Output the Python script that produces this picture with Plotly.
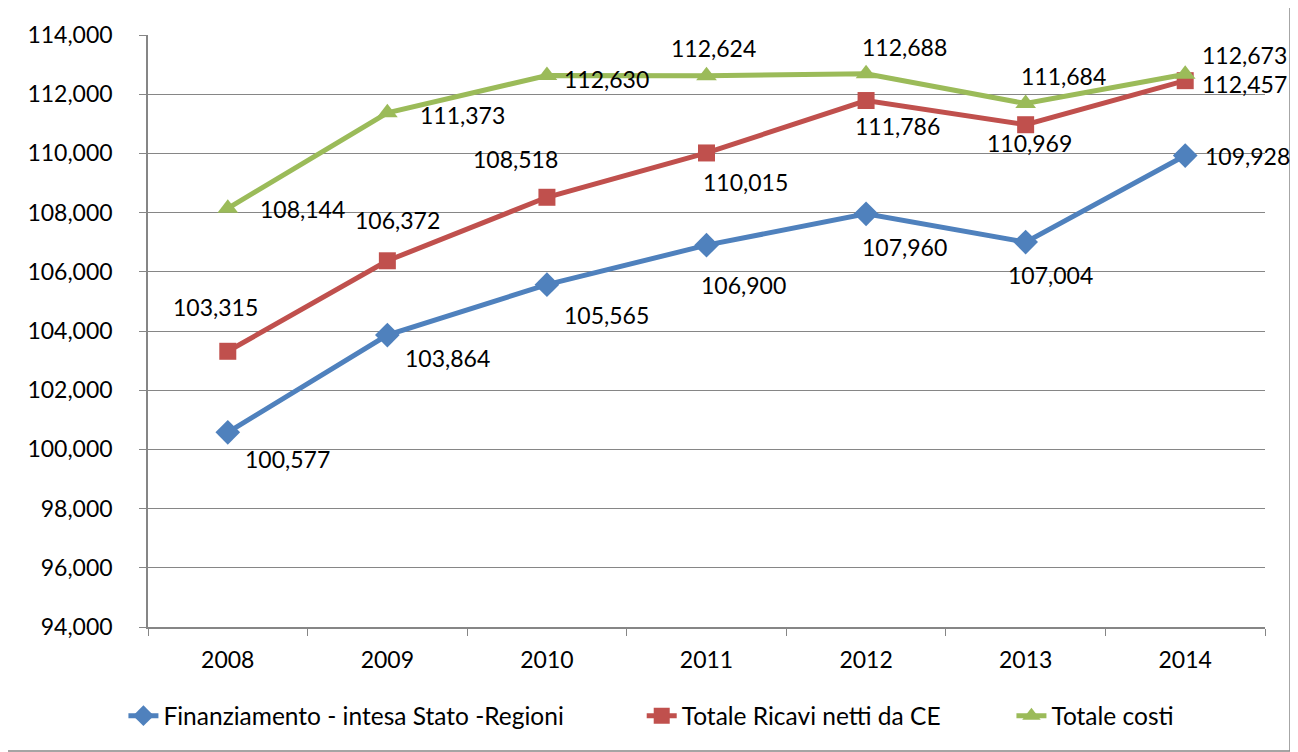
"""Line chart: financing vs revenues vs costs, 2008-2014."""

import plotly.graph_objects as go

years = ["2008", "2009", "2010", "2011", "2012", "2013", "2014"]

finanziamento = [100577, 103864, 105565, 106900, 107960, 107004, 109928]
ricavi = [103315, 106372, 108518, 110015, 111786, 110969, 112457]
costi = [108144, 111373, 112630, 112624, 112688, 111684, 112673]

series_names = [
    "Finanziamento - intesa Stato -Regioni",
    "Totale Ricavi netti da CE",
    "Totale costi",
]

# label offsets (px) from each point, as placed in the original
label_offsets = {
    "fin": [(60, -27), (60, -23), (60, -30), (37, -40), (38, -33), (25, -33), (62, 0)],
    "ric": [(-12, 44), (10, 41), (-31, 38), (39, -29), (31, -25), (4, -18), (59, -3)],
    "cos": [(75, -1), (75, -2), (60, -3), (7, 28), (38, 27), (38, 28), (59, 19)],
}

FONT = "Lato, Calibri, 'Open Sans', sans-serif"
FS = 23
BLUE = "#4F81BD"
RED = "#C0504D"
GREEN = "#9BBB59"
GREY = "#868686"

fig = go.Figure()

for name, values, color, symbol, size, leg in (
    (series_names[0], finanziamento, BLUE, "diamond", 19, "legend"),
    (series_names[1], ricavi, RED, "square", 17, "legend2"),
    (series_names[2], costi, GREEN, "triangle-up", 18, "legend3"),
):
    fig.add_trace(
        go.Scatter(
            x=years,
            y=values,
            name=name,
            mode="lines+markers",
            line=dict(color=color, width=5),
            marker=dict(symbol=symbol, size=size, color=color),
            legend=leg,
        )
    )

annotations = []
for key, values in (("fin", finanziamento), ("ric", ricavi), ("cos", costi)):
    for i, (val, (dx, dy)) in enumerate(zip(values, label_offsets[key])):
        annotations.append(
            dict(
                x=i,
                y=val,
                xref="x",
                yref="y",
                text=f"{val:,}",
                showarrow=False,
                xshift=dx,
                yshift=dy,
                font=dict(family=FONT, size=FS, color="black"),
            )
        )

# Excel-like legend: three entries placed separately along the bottom
legend_style = dict(
    orientation="h",
    xanchor="left",
    y=-0.15,
    yanchor="middle",
    font=dict(size=24.5),
    bgcolor="rgba(0,0,0,0)",
)

# the page body adds an 8px offset, margins are set to compensate
fig.update_layout(
    width=1298,
    height=752,
    margin=dict(l=140, r=41, t=27, b=133),
    paper_bgcolor="white",
    plot_bgcolor="white",
    font=dict(family=FONT, size=FS, color="black"),
    showlegend=True,
    legend=dict(x=-0.022, **legend_style),
    legend2=dict(x=0.442, **legend_style),
    legend3=dict(x=0.773, **legend_style),
    annotations=annotations,
    shapes=[
        dict(
            type="rect",
            xref="paper",
            yref="paper",
            x0=-0.1262,
            x1=1.0224,
            y0=-0.2095,
            y1=1.049,
            line=dict(color=GREY, width=1.5),
            layer="below",
        )
    ],
)

fig.update_xaxes(
    type="category",
    range=[-0.5, 6.5],
    tickson="boundaries",
    ticks="outside",
    ticklen=7,
    tickcolor=GREY,
    showline=True,
    linecolor=GREY,
    linewidth=1.5,
    showgrid=False,
    ticklabelstandoff=12,
)

fig.update_yaxes(
    range=[94000, 114000],
    dtick=2000,
    tickformat=",d",
    ticks="outside",
    ticklen=7,
    tickcolor=GREY,
    showline=True,
    linecolor=GREY,
    linewidth=1.5,
    gridcolor=GREY,
    gridwidth=1.2,
    zeroline=False,
    ticklabelstandoff=22,
)

fig.write_html("out.html")
